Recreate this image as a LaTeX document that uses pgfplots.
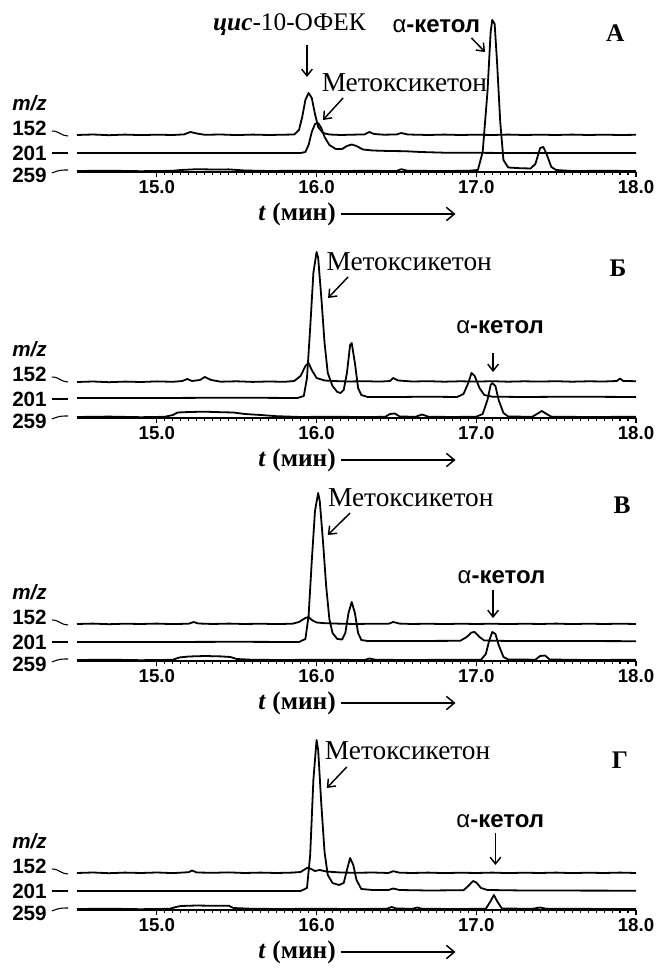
\documentclass[border=0pt]{standalone}
\usepackage{fontspec}
\setmainfont{Liberation Serif}
\setsansfont{Liberation Sans}
\usepackage{pgfplots}
\pgfplotsset{compat=1.18}
\usetikzlibrary{arrows.meta}

\newcommand\anno{\fontsize{19}{21}\selectfont}
\newcommand\mk{\fontsize{20.5}{22}\selectfont}
\newcommand\kfont{\sffamily\bfseries\fontsize{18}{20}\selectfont}
\newcommand\alf{{\mdseries α}}
\newcommand\letter{\bfseries\fontsize{19}{21}\selectfont}
\newcommand\lab{\sffamily\bfseries\fontsize{15.5}{17}\selectfont}

% y units are pixels above the axis line of each panel
\pgfplotsset{
  panel/.style={
    scale only axis, width=419.25pt, height=120pt,
    xmin=14.5, xmax=18, ymin=0, ymax=160,
    axis x line*=bottom, axis y line=none,
    clip=false, anchor=south west,
    xtick={15,16,17,18},
    minor x tick num=19,
    tick align=outside,
    major tick length=4pt, minor tick length=2pt,
    every tick/.style={black, line width=0.8pt},
    x axis line style={line width=1.2pt},
    xticklabel style={font=\sffamily\bfseries\fontsize{14}{15}\selectfont, yshift=1pt,
      /pgf/number format/fixed, /pgf/number format/fixed zerofill,
      /pgf/number format/precision=1, /pgf/number format/assume math mode=true},
  },
  tr/.style={black, line width=1.35pt, line join=round, mark=none},
}
\tikzset{arr/.style={line width=1.1pt, -{Straight Barb[length=5pt,width=8pt]}}}

\newcommand\mzlabels{%
  \node[font=\lab\itshape, anchor=east] at (axis cs:14.34,69) {m/z};
  \node[font=\lab, anchor=east] at (axis cs:14.34,44) {152};
  \node[font=\lab, anchor=east] at (axis cs:14.34,19) {201};
  \node[font=\lab, anchor=east] at (axis cs:14.34,-3) {259};
  \draw[line width=0.8pt] (axis cs:14.343,41) .. controls (axis cs:14.39,41) and (axis cs:14.40,36) .. (axis cs:14.444,36);
  \draw[line width=0.8pt] (axis cs:14.343,19) -- (axis cs:14.444,19);
  \draw[line width=0.8pt] (axis cs:14.343,-1) .. controls (axis cs:14.39,2) and (axis cs:14.40,2) .. (axis cs:14.444,2);
  \node[font=\bfseries\anno] at (axis cs:15.878,-42) {\textit{t} (мин)};
  \draw[line width=1.1pt, -{Straight Barb[length=6pt,width=10pt]}] (axis cs:16.15,-42) -- (axis cs:16.87,-42);
}

\begin{document}
\begin{tikzpicture}
\path[use as bounding box] (0,0) rectangle (493.5pt,726pt);

% ---------- A ----------
\begin{axis}[panel, at={(57.75pt,597pt)}]
\addplot[tr] coordinates {(14.5,37)(14.6,37.5)(14.7,36.8)(14.8,37.4)(14.9,36.9)(15.0,37.3)(15.1,37)(15.17,37.6)(15.21,40)(15.25,38.5)(15.3,37.2)(15.4,37.5)(15.5,36.9)(15.6,37.4)(15.7,37)(15.8,37.3)(15.86,37.5)(15.89,42)(15.91,55)(15.93,72)(15.95,79)(15.97,74)(15.99,58)(16.01,45)(16.04,39)(16.08,37.5)(16.15,37)(16.25,37.4)(16.3,37.5)(16.33,40)(16.36,38)(16.42,37.3)(16.5,37.5)(16.53,39)(16.57,37.5)(16.7,37)(16.8,37.4)(16.9,37)(17.0,37.3)(17.1,37)(17.2,37.4)(17.3,37)(17.4,37.3)(17.5,37)(17.6,37.4)(17.7,37)(17.8,37.3)(17.9,37)(18.0,37.2)};
\addplot[tr] coordinates {(14.5,19)(15.0,19)(15.5,19)(15.9,19)(15.93,20)(15.95,27)(15.97,40)(15.99,48)(16.01,49)(16.03,44)(16.05,35)(16.08,27)(16.12,23)(16.16,23)(16.19,26)(16.22,27.5)(16.25,26)(16.29,22.5)(16.35,21.5)(16.45,21)(16.55,20.8)(16.65,20)(16.8,19.3)(17.0,19.2)(17.2,19)(18.0,19)};
\addplot[tr] coordinates {(14.5,1)(14.7,1.3)(14.9,0.8)(15.1,1.2)(15.15,2)(15.25,2.8)(15.35,2.5)(15.45,2.6)(15.55,1.5)(15.7,1)(15.9,1.3)(16.1,0.9)(16.3,1.2)(16.5,1)(16.53,2.8)(16.57,1.2)(16.8,1)(16.95,1.2)(17.01,2)(17.04,20)(17.07,80)(17.09,140)(17.1,152)(17.115,148)(17.13,110)(17.15,50)(17.17,12)(17.2,4.5)(17.27,3.8)(17.34,3.5)(17.37,8)(17.4,24)(17.42,25)(17.44,18)(17.47,5)(17.5,2)(17.6,1)(17.8,1.2)(18.0,1)};
\mzlabels
\node[font=\anno] at (axis cs:15.83,147) {\textbf{\textit{цис}}-10-ОФЕК};
\draw[arr] (axis cs:15.94,127) -- (axis cs:15.94,95);
\node[font=\mk] at (axis cs:16.55,89) {Метоксикетон};
\draw[arr] (axis cs:16.166,74) -- (axis cs:16.04,52);
\node[font=\kfont] at (axis cs:16.75,146) {\alf-кетол};
\draw[arr] (axis cs:16.97,134) -- (axis cs:17.055,120);
\node[font=\letter] at (axis cs:17.87,139) {А};
\end{axis}

% ---------- Б ----------
\begin{axis}[panel, at={(57.75pt,412.5pt)}]
\addplot[tr] coordinates {(14.5,36)(14.6,36.5)(14.7,35.8)(14.8,36.4)(14.9,36)(15.0,36.6)(15.1,36.2)(15.16,37)(15.19,39)(15.22,37)(15.27,38)(15.3,41)(15.34,38)(15.4,36.3)(15.5,36.7)(15.6,36.1)(15.7,36.5)(15.8,36.2)(15.86,37)(15.9,42)(15.93,52)(15.95,55)(15.97,48)(16.0,40)(16.05,37.5)(16.1,37)(16.2,36.5)(16.3,36.8)(16.4,36.4)(16.46,37)(16.48,40)(16.51,37.5)(16.6,36.5)(16.7,36.8)(16.8,36.3)(16.9,36.7)(17.0,36.4)(17.1,36.8)(17.2,36.3)(17.3,36.7)(17.4,36.4)(17.5,36.8)(17.6,36.3)(17.7,36.7)(17.8,36.5)(17.88,37)(17.9,39.5)(17.92,37)(18.0,36.8)};
\addplot[tr] coordinates {(14.5,20)(15.0,20)(15.5,20.3)(15.88,20)(15.92,22)(15.94,40)(15.96,90)(15.98,145)(16.0,166)(16.01,160)(16.03,120)(16.05,75)(16.07,45)(16.1,32)(16.13,26)(16.15,25)(16.17,28)(16.19,45)(16.21,73)(16.22,75)(16.24,55)(16.26,30)(16.28,23)(16.32,21)(16.5,21)(16.7,21.3)(16.88,21)(16.92,24)(16.95,35)(16.97,45)(16.99,42)(17.02,30)(17.05,23)(17.1,21.3)(17.3,21)(17.6,21.3)(18.0,21)};
\addplot[tr] coordinates {(14.5,1)(14.7,1.4)(14.9,0.8)(15.05,1.2)(15.1,3)(15.13,5.5)(15.2,6)(15.3,6.3)(15.4,5.8)(15.48,5.5)(15.55,4)(15.65,3)(15.75,1.8)(15.9,1)(16.1,1.3)(16.3,0.9)(16.43,1.2)(16.46,4)(16.49,4.5)(16.52,1.5)(16.62,1.2)(16.66,3.5)(16.7,1.3)(16.85,1)(17.0,1.3)(17.04,4)(17.07,18)(17.09,33)(17.1,35)(17.12,32)(17.14,18)(17.17,5)(17.2,1.5)(17.35,1.2)(17.38,4)(17.41,7)(17.44,4)(17.47,1.3)(17.7,1)(18.0,1.2)};
\mzlabels
\node[font=\mk] at (axis cs:16.58,156) {Метоксикетон};
\draw[arr] (axis cs:16.197,141) -- (axis cs:16.072,120);
\node[font=\kfont] at (axis cs:17.149,91) {\alf-кетол};
\draw[arr] (axis cs:17.105,65) -- (axis cs:17.105,46);
\node[font=\letter] at (axis cs:17.888,150) {Б};
\end{axis}

% ---------- В ----------
\begin{axis}[panel, at={(57.75pt,230.25pt)}]
\addplot[tr] coordinates {(14.5,37)(14.6,37.4)(14.7,36.8)(14.8,37.3)(14.9,37)(15.0,37.4)(15.1,36.9)(15.2,37.3)(15.23,39)(15.26,37.5)(15.35,37)(15.45,37.4)(15.55,37)(15.65,37.3)(15.75,36.9)(15.85,37.3)(15.89,39)(15.93,43)(15.95,44)(15.97,41)(16.0,38.5)(16.05,37.8)(16.15,37.3)(16.25,37)(16.35,37.3)(16.45,37.2)(16.48,39)(16.52,37.4)(16.6,37)(16.7,37.3)(16.8,36.9)(16.9,37.3)(17.0,37)(17.1,37.3)(17.2,36.9)(17.3,37.3)(17.4,37)(17.5,37.4)(17.6,36.9)(17.7,37.3)(17.8,37)(17.9,37.3)(18.0,37)};
\addplot[tr] coordinates {(14.5,19)(15.0,19)(15.5,19.2)(15.89,19)(15.93,22)(15.95,45)(15.97,100)(15.99,150)(16.01,168)(16.02,160)(16.04,120)(16.06,75)(16.08,42)(16.1,28)(16.13,22)(16.16,21.5)(16.18,28)(16.2,48)(16.22,59)(16.24,48)(16.26,28)(16.28,21)(16.32,20)(16.6,20)(16.9,20.2)(16.94,24)(16.97,28.5)(16.99,29)(17.02,24)(17.05,20.5)(17.2,20)(17.6,20)(18.0,19.8)};
\addplot[tr] coordinates {(14.5,1)(14.7,1.3)(14.9,0.8)(15.1,1.2)(15.14,3.5)(15.2,4.5)(15.3,5)(15.4,4.6)(15.46,4)(15.5,2)(15.6,1.2)(15.8,1)(16.0,1.3)(16.3,1)(16.33,2.5)(16.37,1.2)(16.6,1)(16.8,1.2)(17.03,1.3)(17.06,7)(17.08,20)(17.1,29)(17.12,27)(17.14,16)(17.17,4)(17.2,1.5)(17.37,1.3)(17.4,5)(17.43,5.5)(17.46,1.5)(17.7,1)(18.0,1.2)};
\mzlabels
\node[font=\mk] at (axis cs:16.59,163) {Метоксикетон};
\draw[arr] (axis cs:16.21,148) -- (axis cs:16.07,126);
\node[font=\kfont] at (axis cs:17.158,84) {\alf-кетол};
\draw[arr] (axis cs:17.105,71) -- (axis cs:17.105,43);
\node[font=\letter] at (axis cs:17.913,156) {В};
\end{axis}

% ---------- Г ----------
\begin{axis}[panel, at={(57.75pt,43.5pt)}]
\addplot[tr] coordinates {(14.5,37)(14.6,37.5)(14.7,36.8)(14.8,37.4)(14.9,37)(15.0,37.5)(15.1,36.9)(15.2,37.8)(15.22,39.5)(15.25,37.5)(15.35,37.2)(15.45,37.6)(15.55,37)(15.65,37.4)(15.75,37)(15.85,37.4)(15.9,38)(15.94,42)(15.96,41.5)(15.99,39)(16.02,40)(16.06,38.5)(16.15,37.5)(16.25,37.2)(16.35,37.5)(16.45,37)(16.48,38.8)(16.52,37.3)(16.6,37)(16.7,37.4)(16.8,36.9)(16.9,37.3)(17.0,37)(17.1,37.4)(17.2,36.9)(17.3,37.3)(17.4,37)(17.5,37.4)(17.6,36.9)(17.7,37.3)(17.8,37)(17.9,37.4)(18.0,37)};
\addplot[tr] coordinates {(14.5,19)(15.0,19)(15.5,19)(15.9,19)(15.94,22)(15.96,55)(15.98,130)(16.0,170)(16.01,160)(16.03,105)(16.05,58)(16.07,35)(16.1,27)(16.14,25)(16.17,27)(16.19,40)(16.21,52)(16.23,45)(16.25,30)(16.28,21)(16.35,20)(16.45,20)(16.48,21.5)(16.52,20)(16.7,19.5)(16.92,19.8)(16.95,24)(16.98,29)(17.0,27.5)(17.03,22)(17.07,20)(17.3,19.5)(18.0,19.3)};
\addplot[tr] coordinates {(14.5,1)(14.7,1.3)(14.9,0.8)(15.08,1.2)(15.12,3)(15.15,4)(15.25,4.5)(15.35,4.2)(15.45,4.3)(15.48,2)(15.6,1.2)(15.8,1)(16.0,1.3)(16.2,1)(16.44,1.2)(16.47,3)(16.5,1.5)(16.6,1.2)(16.63,2.5)(16.66,1.2)(16.9,1)(17.06,1.3)(17.09,9)(17.11,15)(17.13,9)(17.16,1.5)(17.35,1.2)(17.4,2.5)(17.44,1.2)(18.0,1)};
\mzlabels
\node[font=\mk] at (axis cs:16.57,159) {Метоксикетон};
\draw[arr] (axis cs:16.189,143) -- (axis cs:16.064,122);
\node[font=\kfont] at (axis cs:17.15,89) {\alf-кетол};
\draw[arr] (axis cs:17.12,77) -- (axis cs:17.12,45);
\node[font=\letter] at (axis cs:17.9,150) {Г};
\end{axis}
\end{tikzpicture}
\end{document}
